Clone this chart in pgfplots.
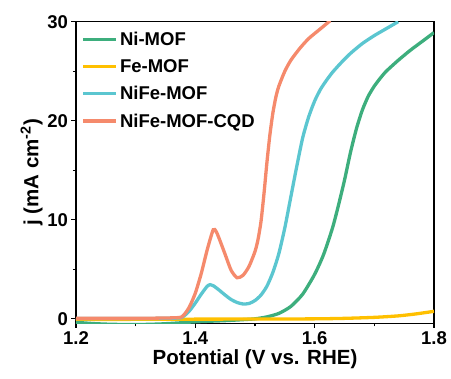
\documentclass[border=0pt]{standalone}
\usepackage{fontspec}
\setmainfont{Liberation Sans}
\usepackage{pgfplots}
\pgfplotsset{compat=1.18}
\definecolor{cgreen}{HTML}{3DAE7D}
\definecolor{cyellow}{HTML}{FFC000}
\definecolor{ccyan}{HTML}{5BC6D0}
\definecolor{corange}{HTML}{F58A6C}
\begin{document}
\begin{tikzpicture}
\begin{axis}[
 scale only axis, width=358pt, height=301.6pt,
 xmin=1.2, xmax=1.8, ymin=-0.45, ymax=30,
 xtick={1.2,1.4,1.6,1.8}, minor xtick={1.3,1.5,1.7},
 ytick={0,10,20,30}, minor ytick={5,15,25},
 tick align=outside, xtick pos=bottom, ytick pos=left,
 major tick length=4.5pt, minor tick length=3pt,
 every tick/.style={black, line width=1.2pt},
 axis line style={line width=1.5pt},
 ticklabel style={font=\bfseries\fontsize{18.5}{18.5}\selectfont},
 /pgf/number format/assume math mode=true,
 xticklabel style={/pgf/number format/.cd, fixed, fixed zerofill, precision=1},
 xlabel={Potential (V vs. RHE)}, ylabel={j (mA cm\textsuperscript{-2})},
 label style={font=\bfseries\fontsize{20.5}{21}\selectfont},
 xlabel style={yshift=2pt}, ylabel style={yshift=-2pt},
 legend style={draw=none, fill=none, at={(0.01,0.98)}, anchor=north west,
   font=\bfseries\fontsize{18.5}{18.5}\selectfont, row sep=8.5pt, inner sep=2pt},
 legend cell align=left,
 legend image code/.code={\draw[#1] (0pt,0pt) -- (33pt,0pt);},
 every axis plot/.append style={line width=3.3pt, smooth, tension=0.4},
]
\coordinate (sw) at (rel axis cs:0,0);
\coordinate (ne) at (rel axis cs:1,1);
\addplot[cgreen] coordinates {(1.20,-0.35) (1.23,-0.48) (1.26,-0.55) (1.30,-0.58) (1.34,-0.52) (1.37,-0.42) (1.40,-0.3) (1.45,-0.18) (1.48,-0.08) (1.50,0.0) (1.52,0.2) (1.54,0.55) (1.56,1.25) (1.58,2.5) (1.60,4.5) (1.615,6.5) (1.63,9.2) (1.64,11.5) (1.65,14.0) (1.66,16.8) (1.67,19.2) (1.68,21.1) (1.69,22.5) (1.70,23.5) (1.71,24.3) (1.72,25.0) (1.74,26.1) (1.76,27.1) (1.78,28.0) (1.80,28.9)};
\addlegendentry{Ni-MOF}
\addplot[cyellow] coordinates {(1.2,-0.05) (1.3,-0.05) (1.4,-0.03) (1.5,-0.02) (1.6,0.0) (1.65,0.05) (1.70,0.15) (1.74,0.3) (1.77,0.5) (1.80,0.76)};
\addlegendentry{Fe-MOF}
\addplot[ccyan] coordinates {(1.2,0.03) (1.3,0.03) (1.37,0.08) (1.38,0.25) (1.39,0.8) (1.40,1.6) (1.41,2.5) (1.42,3.3) (1.425,3.45) (1.43,3.35) (1.44,2.9) (1.45,2.4) (1.46,1.95) (1.47,1.65) (1.48,1.5) (1.49,1.55) (1.50,1.85) (1.51,2.4) (1.52,3.3) (1.53,4.7) (1.54,6.6) (1.55,9.2) (1.56,12.3) (1.57,15.4) (1.58,18.3) (1.59,20.4) (1.60,22.0) (1.61,23.2) (1.62,24.1) (1.63,24.9) (1.645,25.9) (1.66,26.8) (1.68,27.8) (1.70,28.6) (1.72,29.3) (1.74,30.0)};
\addlegendentry{NiFe-MOF}
\addplot[corange] coordinates {(1.2,0.05) (1.3,0.05) (1.37,0.12) (1.38,0.35) (1.39,1.2) (1.40,2.6) (1.41,4.6) (1.42,7.0) (1.43,9.0) (1.435,8.8) (1.44,8.1) (1.45,6.5) (1.46,4.9) (1.47,4.15) (1.48,4.4) (1.49,5.3) (1.50,6.8) (1.505,8.0) (1.51,9.8) (1.515,12.6) (1.52,15.8) (1.525,18.6) (1.53,20.8) (1.535,22.4) (1.54,23.5) (1.55,25.0) (1.56,26.1) (1.575,27.3) (1.59,28.3) (1.61,29.3) (1.626,30.1)};
\addlegendentry{NiFe-MOF-CQD}
\end{axis}
\pgfresetboundingbox
\path ([shift={(-76pt,-54.7pt)}]sw) rectangle ([shift={(17pt,21.7pt)}]ne);
\end{tikzpicture}
\end{document}
